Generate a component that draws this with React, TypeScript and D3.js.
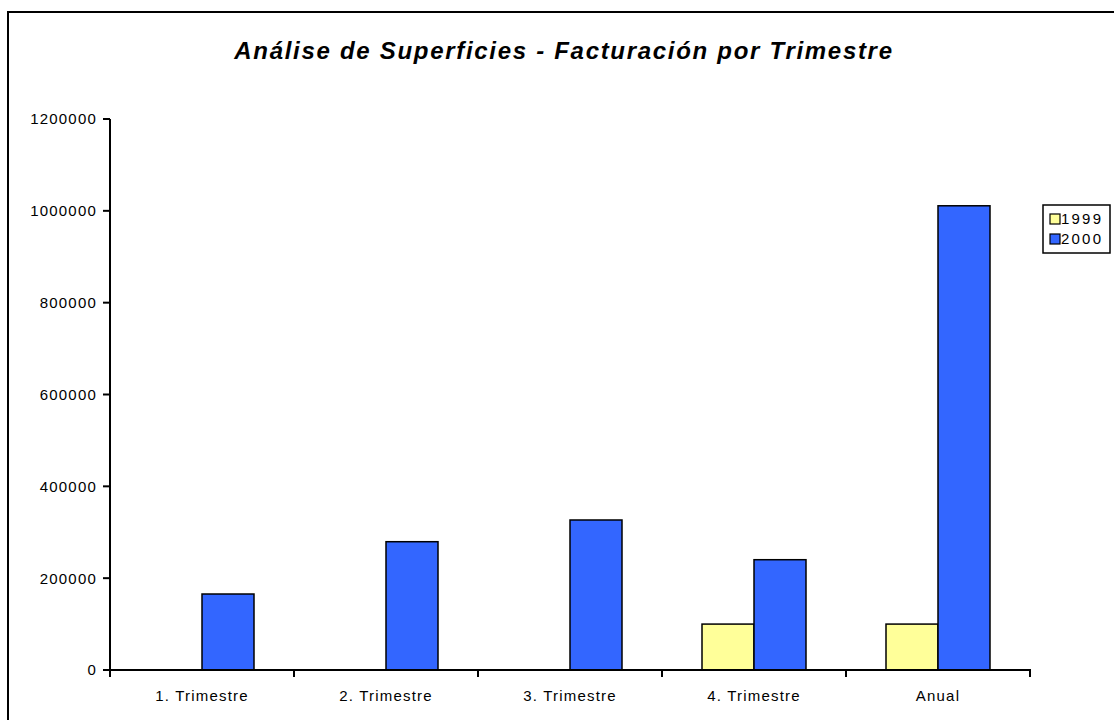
import React from "react";
import * as d3 from "d3";

const categories = ["1. Trimestre", "2. Trimestre", "3. Trimestre", "4. Trimestre", "Anual"];
const seriesNames = ["1999", "2000"];
const values1999 = [0, 0, 0, 100000, 100000];
const values2000 = [165500, 279400, 326700, 240200, 1011000];
const yTicks = [0, 200000, 400000, 600000, 800000, 1000000, 1200000];
const colors = ["#FFFF99", "#3366FF"];

export default function App() {
  const W = 1114, H = 720;
  const left = 110, right = 1030, top = 119, bottom = 670;
  const x0 = d3.scaleBand<string>().domain(categories).range([left, right]).paddingInner(0).paddingOuter(0);
  const bw = x0.bandwidth();
  const groupW = bw * 104 / 184;
  const x1 = d3.scaleBand<string>().domain(seriesNames).range([(bw - groupW) / 2, (bw + groupW) / 2]);
  const y = d3.scaleLinear().domain([0, 1200000]).range([bottom, top]);
  const data = [values1999, values2000];
  const font = "'Liberation Sans', Arial, sans-serif";
  const tickBoundaries = [...categories.map((c) => x0(c) as number), right];

  return (
    <svg width={W} height={H} style={{ position: "absolute", left: 0, top: 0, background: "#fff" }} fontFamily={font}>
      <rect x={0} y={0} width={W} height={H} fill="#fff" />
      <rect x={8} y={12} width={W + 20} height={H + 20} fill="none" stroke="#000" strokeWidth={2} />
      <text x={564} y={59} textAnchor="middle" fontSize={24} letterSpacing={1.7} fontWeight="bold" fontStyle="italic" fill="#000">
        Análise de Superficies - Facturación por Trimestre
      </text>
      {/* bars */}
      {data.map((vals, si) =>
        vals.map((v, ci) =>
          v > 0 ? (
            <rect
              key={`${si}-${ci}`}
              x={(x0(categories[ci]) as number) + (x1(seriesNames[si]) as number)}
              y={y(v)}
              width={x1.bandwidth()}
              height={bottom - y(v)}
              fill={colors[si]}
              stroke="#000"
              strokeWidth={1.5}
            />
          ) : null
        )
      )}
      {/* y axis */}
      <line x1={left} x2={left} y1={top} y2={bottom + 6} stroke="#000" strokeWidth={2} />
      {yTicks.map((t) => (
        <g key={t}>
          <line x1={left - 7} x2={left} y1={y(t)} y2={y(t)} stroke="#000" strokeWidth={2} />
          <text x={left - 13} y={y(t)} dy="0.36em" textAnchor="end" fontSize={15} letterSpacing={1.2} fill="#000">
            {t}
          </text>
        </g>
      ))}
      {/* x axis */}
      <line x1={left - 7} x2={right + 1} y1={bottom} y2={bottom} stroke="#000" strokeWidth={2} />
      {tickBoundaries.map((tx, i) => (
        <line key={i} x1={tx} x2={tx} y1={bottom} y2={bottom + 7} stroke="#000" strokeWidth={2} />
      ))}
      {categories.map((c) => (
        <text key={c} x={(x0(c) as number) + bw / 2} y={701} textAnchor="middle" fontSize={15} letterSpacing={1.2} fill="#000">
          {c}
        </text>
      ))}
      {/* legend */}
      <rect x={1043} y={205} width={67} height={48} fill="#fff" stroke="#000" strokeWidth={1.5} />
      {seriesNames.map((s, i) => (
        <g key={s}>
          <rect x={1050} y={214 + i * 20} width={10} height={10} fill={colors[i]} stroke="#000" strokeWidth={1.2} />
          <text x={1061} y={219 + i * 20} dy="0.36em" fontSize={15} letterSpacing={2.2} fill="#000">
            {s}
          </text>
        </g>
      ))}
    </svg>
  );
}
